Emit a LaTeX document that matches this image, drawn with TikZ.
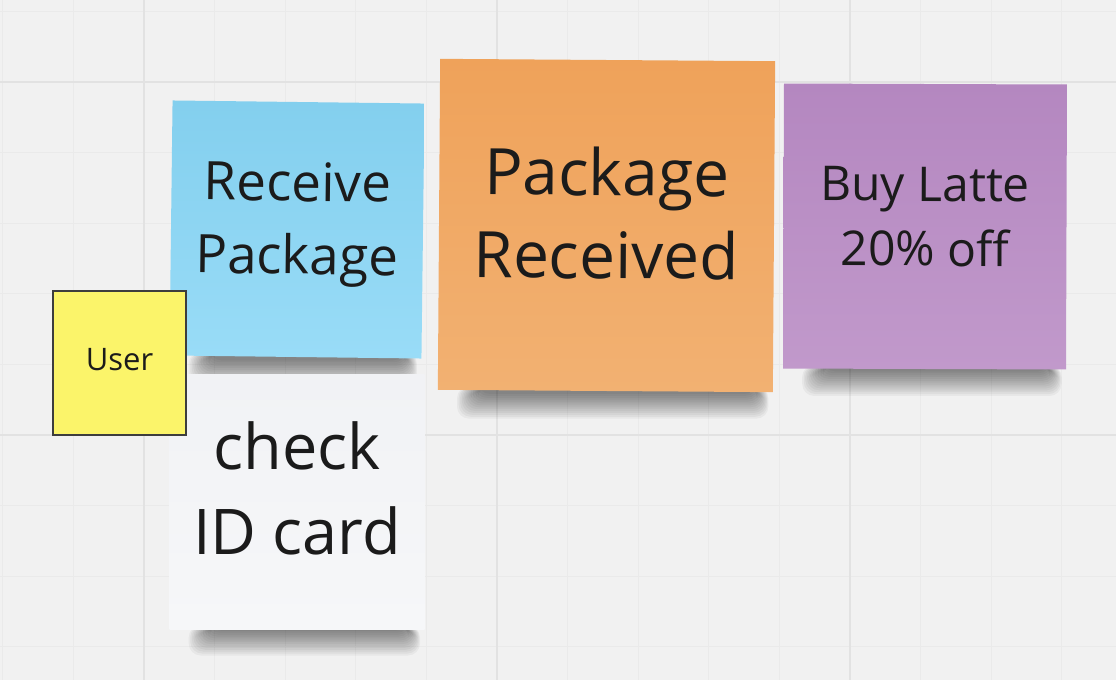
\documentclass[tikz,border=0pt]{standalone}
\usepackage{fontspec}
\setmainfont{Open Sans}
\usetikzlibrary{positioning, backgrounds}
\definecolor{canvas}{HTML}{F1F1F1}
\definecolor{gridminor}{HTML}{EAEAEA}
\definecolor{gridmajor}{HTML}{E2E2E2}
\definecolor{ink}{HTML}{1B1B1B}
\definecolor{skytop}{HTML}{83CFEE}
\definecolor{skybot}{HTML}{99DCF7}
\definecolor{orangetop}{HTML}{EFA25A}
\definecolor{orangebot}{HTML}{F2B172}
\definecolor{violettop}{HTML}{B487C0}
\definecolor{violetbot}{HTML}{C199CB}
\definecolor{papertop}{HTML}{F1F2F5}
\definecolor{paperbot}{HTML}{F6F7F9}
\definecolor{lemon}{HTML}{FBF46A}
\newcommand{\notestrut}{\rule[-0.31\baselineskip]{0pt}{\baselineskip}}
\tikzstyle{note} = [rectangle, inner sep=0pt, align=center, text=ink,
execute at begin node=\notestrut,
execute at end node=\notestrut]
\tikzstyle{minorline} = [gridminor, line width=0.5pt]
\tikzstyle{majorline} = [gridmajor, line width=1pt]
\tikzstyle{shadowlayer} = [black, opacity=0.04, rounded corners=6pt]

\begin{document}
\begin{tikzpicture}[x=0.5pt, y=-0.5pt]
				
				\useasboundingbox (0,0) rectangle (1116,680);
				
				\node[note, minimum width=126pt, minimum height=127.5pt, rotate=-0.7,
				top color=skytop, bottom color=skybot,
				font=\fontsize{26.5}{36.5}\selectfont] (receive) at (297,229.5) {Receive\\Package};
				\node[note, minimum width=127.5pt, minimum height=127.5pt,
				top color=papertop, bottom color=paperbot,
				font=\fontsize{31.5}{42.5}\selectfont] (checkid) at ([yshift=-136pt]receive.center) {check\\ID card};
				\node[note, minimum width=66.5pt, minimum height=72pt,
				fill=lemon, draw=ink!85, line width=0.6pt,
				font=\fontsize{15.5}{21}\selectfont] (user) at ([xshift=-88.75pt, yshift=-66.75pt]receive.center) {User};
				\node[note, minimum width=167.5pt, minimum height=165.5pt, rotate=-0.4,
				top color=orangetop, bottom color=orangebot,
				font=\fontsize{32}{41.5}\selectfont] (received) at ([xshift=154.75pt, yshift=2pt]receive.center) {Package\\Received};
				\node[note, minimum width=141.5pt, minimum height=142.5pt, rotate=-0.2,
				top color=violettop, bottom color=violetbot,
				font=\fontsize{24}{32.5}\selectfont] (latte) at ([xshift=159.25pt, yshift=-0.5pt]received.center) {Buy Latte\\20\% off};
				
				% Board and shadows
				\begin{scope}[on background layer]
				\fill[canvas] (0,0) rectangle (1116,680);
				\foreach \k in {0,...,15}
				\draw[minorline] (2.8+70.6*\k,0) -- (2.8+70.6*\k,680);
				\foreach \k in {0,...,9}
				\draw[minorline] (0,11.4+70.6*\k) -- (1116,11.4+70.6*\k);
				\foreach \k in {144,497,850}
				\draw[majorline] (\k,0) -- (\k,680);
				\foreach \k in {82,435}
				\draw[majorline] (0,\k) -- (1116,\k);
				\foreach \n in {receive, checkid, received, latte}
				\foreach \i in {1,...,14}
				\fill[shadowlayer] ([xshift=9pt+0.8*\i pt, yshift=2pt]\n.south west) rectangle ([xshift=-2pt-0.45*\i pt, yshift=-14pt+0.95*\i pt]\n.south east);
				\end{scope}
				
			\end{tikzpicture}
\end{document}
